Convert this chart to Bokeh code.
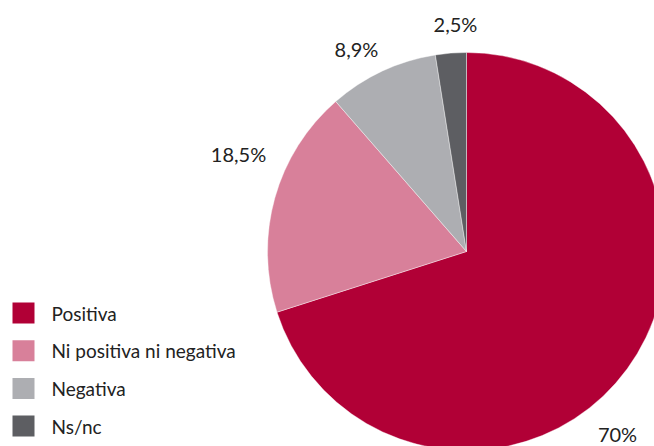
import numpy as np
from bokeh.plotting import figure
from bokeh.models import Range1d, ColumnDataSource
from bokeh.core.properties import value
from bokeh.embed import file_html
from bokeh.resources import INLINE

categories = ["Positiva", "Ni positiva ni negativa", "Negativa", "Ns/nc"]
values = [70.0, 18.5, 8.9, 2.5]
labels = ["70%", "18,5%", "8,9%", "2,5%"]
colors = ["#B10036", "#D8809A", "#ADAEB2", "#5D5E62"]

W, H = 654, 446
p = figure(width=W, height=H, output_backend="svg", toolbar_location=None,
           x_range=Range1d(0, W), y_range=Range1d(0, H), min_border=0)
p.axis.visible = False
p.grid.visible = False
p.outline_line_color = None
p.background_fill_color = "white"

cx, cy, r = 466, H - 251, 199
vals = np.array(values)
fr = vals / vals.sum() * 2 * np.pi
ends = np.cumsum(fr)
starts = ends - fr
start_ang = np.pi / 2 - starts
end_ang = np.pi / 2 - ends
src = ColumnDataSource(dict(s=start_ang, e=end_ang, c=colors))
p.wedge(x=cx, y=cy, radius=r, start_angle="s", end_angle="e", direction="clock",
        fill_color="c", line_color="white", line_width=0.5, line_alpha=0.8, source=src)

# label positions (layout, in pixels from top-left of picture)
label_pos = [(617, 433), (238, 153), (356, 48), (455, 23)]
lx = [a for a, b in label_pos]
ly = [H - b for a, b in label_pos]
p.text(x=lx, y=ly, text=labels, text_font=value("Lato"), text_font_size="20px",
       text_color="#222222", text_align="center", text_baseline="middle")

# legend
ys = [H - (312.5 + i * 37.7) for i in range(len(categories))]
p.rect(x=[23] * 4, y=ys, width=22, height=21, fill_color=colors, line_color=None)
p.text(x=[51] * 4, y=ys, text=categories, text_font=value("Lato"), text_font_size="19px",
       text_color="#222222", text_align="left", text_baseline="middle")

open("out.html", "w").write(file_html(p, INLINE))
